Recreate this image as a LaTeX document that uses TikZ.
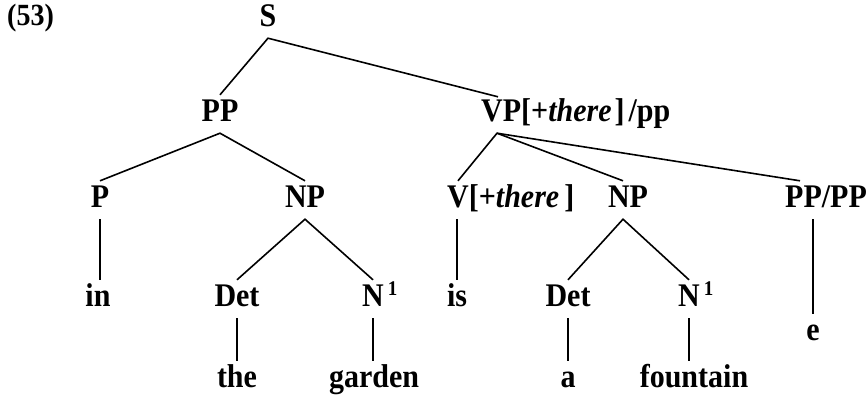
\documentclass[tikz,border=0pt]{standalone}
\usepackage{fontspec}
\setmainfont{Liberation Serif}
% slightly taller lettering
\newcommand{\tall}[1]{\scalebox{1}[1.1]{#1}}
\newcommand{\supone}{\hspace{4pt}\raisebox{10pt}{\fontsize{19}{19}\selectfont 1}}
\begin{document}
\begin{tikzpicture}[x=1pt,y=-1pt,
  every node/.style={font=\fontsize{30}{32}\selectfont\bfseries,
    inner xsep=0pt, inner ysep=12pt, text height=14pt, text depth=0pt, anchor=base},
  edge/.style={line width=1.6pt}]
\useasboundingbox (0,0) rectangle (867,400);
% labels, placed by their baselines
\node[anchor=base west, font=\fontsize{28}{30}\selectfont\bfseries] (num) at (7,25) {\tall{(53)}};
\node (s) at (268,26) {\tall{S}};
\node (pp) at (220,121) {\tall{PP}};
\node[anchor=base west] (vp) at (481,121) {\tall{VP[+\textit{there}\hspace{3pt}]\hspace{4pt}/pp}};
\node (p) at (100,207) {\tall{P}};
\node (npa) at (305,207) {\tall{NP}};
\node[anchor=base west] (v) at (447,207) {\tall{V[+\textit{there}\hspace{5pt}]}};
\node (npb) at (628,207) {\tall{NP}};
\node[anchor=base west] (pppp) at (785,207) {\tall{PP/PP}};
\node (in) at (98,306) {\tall{in}};
\node (deta) at (237,306) {\tall{Det}};
\node[anchor=base west] (na) at (362,306) {\tall{N\supone}};
\node (is) at (457,306) {\tall{is}};
\node (detb) at (568,306) {\tall{Det}};
\node[anchor=base west] (nb) at (678,306) {\tall{N\supone}};
\node (the) at (237,387) {\tall{the}};
\node (garden) at (374,387) {\tall{garden}};
\node (a) at (568,387) {\tall{a}};
\node (fountain) at (694,387) {\tall{fountain}};
\node (e) at (813,340) {\tall{e}};
% branches
\draw[edge] (pp.north) -- (s.south) -- ([xshift=17pt,yshift=-2pt]vp.north west);
\draw[edge] (p.north) -- (pp.south) -- (npa.north);
\draw[edge] (p.south) -- (p.south |- in.north);
\draw[edge] (deta.north) -- (npa.south) -- ([xshift=11pt]na.north west);
\draw[edge] (the.north) -- (the.north |- deta.south);
\draw[edge] ([xshift=11pt]na.south west) -- ([xshift=11pt]na.south west |- garden.north);
\draw[edge] ([xshift=11pt]v.north west) -- ([xshift=16pt]vp.south west) -- ([xshift=-5pt]npb.north);
\draw[edge] ([xshift=16pt]vp.south west) -- ([xshift=15pt]pppp.north west);
\draw[edge] (is.north) -- (is.north |- v.south);
\draw[edge] (detb.north) -- ([xshift=-5pt]npb.south) -- ([xshift=11pt]nb.north west);
\draw[edge] (a.north) -- (a.north |- detb.south);
\draw[edge] ([xshift=11pt]nb.south west) -- ([xshift=11pt]nb.south west |- fountain.north);
\draw[edge] (e.north) -- (e.north |- pppp.south);
\end{tikzpicture}
\end{document}
